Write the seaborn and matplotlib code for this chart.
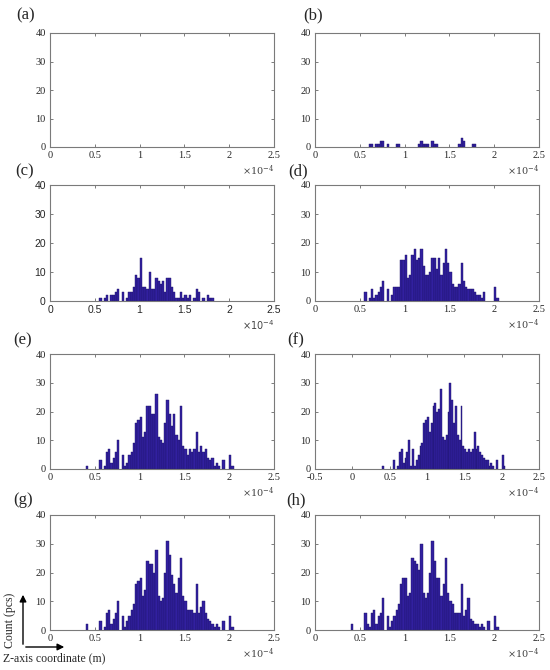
import pandas as pd
import matplotlib
matplotlib.use("Agg")
import matplotlib.pyplot as plt
from matplotlib.patches import FancyArrowPatch
import seaborn as sns

# histogram bins, in units of 1e-4 m
BIN_START = 0.40
BIN_WIDTH = 0.025
N_BINS = 66

counts_a = [0, 0, 0, 0, 0, 0, 0, 0, 0, 0, 0,
            0, 0, 0, 0, 0, 0, 0, 0, 0, 0, 0,
            0, 0, 0, 0, 0, 0, 0, 0, 0, 0, 0,
            0, 0, 0, 0, 0, 0, 0, 0, 0, 0, 0,
            0, 0, 0, 0, 0, 0, 0, 0, 0, 0, 0,
            0, 0, 0, 0, 0, 0, 0, 0, 0, 0, 0]
counts_b = [0, 0, 0, 0, 0, 0, 0, 0, 1, 1, 0,
            1, 1, 2, 2, 0, 1, 0, 0, 0, 1, 1,
            0, 0, 0, 0, 0, 0, 0, 0, 1, 2, 1,
            1, 1, 0, 2, 1, 1, 0, 0, 0, 0, 0,
            0, 0, 0, 0, 1, 3, 2, 0, 0, 0, 1,
            1, 0, 0, 0, 0, 0, 0, 0, 0, 0, 0]
counts_c = [0, 0, 0, 0, 0, 0, 1, 0, 1, 2, 0,
            2, 2, 3, 4, 0, 3, 0, 1, 3, 3, 5,
            9, 8, 15, 5, 5, 4, 10, 4, 4, 8, 7,
            6, 7, 3, 8, 8, 5, 3, 1, 1, 3, 1,
            2, 1, 2, 0, 1, 4, 3, 0, 1, 0, 2,
            1, 1, 0, 0, 0, 0, 0, 0, 0, 0, 0]
counts_d = [0, 0, 0, 0, 0, 0, 3, 0, 1, 4, 1,
            2, 3, 5, 7, 0, 4, 0, 2, 5, 5, 5,
            14, 14, 16, 8, 9, 16, 18, 14, 15, 18, 12,
            9, 9, 10, 15, 15, 11, 15, 9, 13, 18, 13,
            10, 6, 5, 5, 6, 13, 7, 5, 4, 4, 4,
            3, 2, 2, 1, 3, 0, 0, 0, 0, 5, 1]
counts_e = [1, 0, 0, 0, 0, 0, 3, 0, 1, 6, 7,
            2, 4, 6, 10, 0, 5, 1, 2, 5, 6, 9,
            16, 17, 18, 11, 13, 22, 22, 19, 19, 26, 11,
            10, 9, 16, 24, 19, 15, 19, 12, 10, 22, 8,
            7, 5, 7, 6, 7, 13, 6, 8, 6, 7, 4,
            3, 4, 1, 2, 1, 0, 3, 0, 0, 5, 1]
counts_f = [1, 0, 0, 0, 0, 0, 3, 0, 1, 6, 7,
            2, 4, 6, 10, 1, 7, 1, 3, 5, 8, 9,
            16, 17, 18, 13, 16, 22, 23, 20, 21, 28, 11,
            10, 12, 20, 30, 24, 16, 22, 12, 10, 22, 8,
            7, 6, 7, 6, 7, 13, 7, 8, 6, 5, 4,
            3, 3, 1, 2, 1, 0, 3, 0, 0, 5, 1]
counts_g = [2, 0, 0, 0, 0, 0, 3, 0, 1, 6, 7,
            2, 4, 6, 10, 0, 5, 1, 3, 5, 7, 9,
            16, 17, 18, 12, 14, 24, 23, 23, 20, 28, 12,
            10, 11, 20, 31, 26, 19, 16, 13, 18, 25, 12,
            10, 7, 7, 7, 6, 16, 6, 8, 10, 6, 4,
            3, 2, 1, 2, 1, 0, 3, 0, 0, 5, 1]
counts_h = [2, 0, 0, 0, 0, 0, 6, 2, 1, 6, 7,
            2, 5, 6, 11, 0, 5, 1, 3, 5, 7, 9,
            16, 18, 18, 12, 13, 25, 24, 23, 21, 30, 13,
            11, 13, 20, 31, 24, 18, 18, 12, 16, 25, 13,
            10, 9, 6, 6, 6, 16, 5, 7, 11, 4, 3,
            2, 2, 1, 2, 1, 0, 3, 0, 0, 5, 1]

panel_labels = ["(a)", "(b)", "(c)", "(d)", "(e)", "(f)", "(g)", "(h)"]
panel_counts = [counts_a, counts_b, counts_c, counts_d,
                counts_e, counts_f, counts_g, counts_h]
xticks_default = [0, 0.5, 1, 1.5, 2, 2.5]
xticks_f = [-0.5, 0, 0.5, 1, 1.5, 2, 2.5]
yticks = [0, 10, 20, 30, 40]

sns.set_style("ticks")
plt.rcParams["font.family"] = ["Liberation Serif", "DejaVu Serif"]

edges = [BIN_START + BIN_WIDTH * k for k in range(N_BINS + 1)]
centers = [e + BIN_WIDTH / 2 for e in edges[:-1]]

W, H = 550, 670
fig = plt.figure(figsize=(W / 100, H / 100), dpi=100)

# axes boxes in image pixels
col_left = [50, 315]
row_top = [33, 185, 354, 515]
row_h = [114, 116, 115, 115]
ax_w = 224
label_pos = [(26, 15), (313, 15), (25, 171), (298, 171),
             (23, 340), (296, 340), (23, 500), (296, 500)]

bar_color = "#3220a0"
edge_color = "#1c1268"

for i, (lab, cnt) in enumerate(zip(panel_labels, panel_counts)):
    r, c = divmod(i, 2)
    left = col_left[c]
    top = row_top[r]
    h = row_h[r]
    ax = fig.add_axes([left / W, (H - top - h) / H, ax_w / W, h / H])
    df = pd.DataFrame({"z": centers, "n": cnt})
    sns.histplot(data=df, x="z", weights="n", bins=edges, ax=ax,
                 color=bar_color, edgecolor=edge_color, linewidth=0.3,
                 alpha=1.0)
    # empty bins leave no outline
    for p in ax.patches:
        if p.get_height() == 0:
            p.set_visible(False)
    ax.set_xlabel("")
    ax.set_ylabel("")

    sans = (lab == "(c)")
    fam = "Liberation Sans" if sans else "Liberation Serif"
    xt = xticks_f if lab == "(f)" else xticks_default
    ax.set_xlim(xt[0], xt[-1])
    ax.set_ylim(0, 40)
    ax.set_xticks(xt, labels=[f"{t:g}" for t in xt], fontfamily=fam,
                  fontsize=7.5, color="#262626")
    ax.set_yticks(yticks, labels=[str(t) for t in yticks], fontfamily=fam,
                  fontsize=7.5, color="#262626")
    ax.tick_params(direction="in", top=True, right=True, length=2.5,
                   width=0.6, color="#666666", pad=3)
    for sp in ax.spines.values():
        sp.set_visible(True)
        sp.set_color("#7a7a7a")
        sp.set_linewidth(0.8)

    ax.text(1.0, -0.205, r"$\times10^{-4}$", transform=ax.transAxes,
            ha="right", va="center", fontsize=7, color="#444444",
            math_fontfamily="dejavusans" if sans else "dejavuserif")

    lx, ly = label_pos[i]
    fig.text(lx / W, (H - ly) / H, lab, ha="center", va="center",
             fontsize=12, fontfamily="Liberation Serif")

# axis legend arrows at bottom left
corner = (23 / W, (H - 647) / H)
up_tip = (23 / W, (H - 592) / H)
right_tip = (67 / W, (H - 647) / H)
for tip in (up_tip, right_tip):
    fig.add_artist(FancyArrowPatch(corner, tip, transform=fig.transFigure,
                                   arrowstyle="-|>", mutation_scale=10,
                                   lw=1.0, color="black"))
fig.text(10 / W, (H - 620) / H, "Count (pcs)", rotation=90,
         ha="center", va="center", fontsize=8.5)
fig.text(3 / W, (H - 658) / H, "Z-axis coordinate (m)",
         ha="left", va="center", fontsize=8.5)

fig.savefig("out.png", dpi=100)
